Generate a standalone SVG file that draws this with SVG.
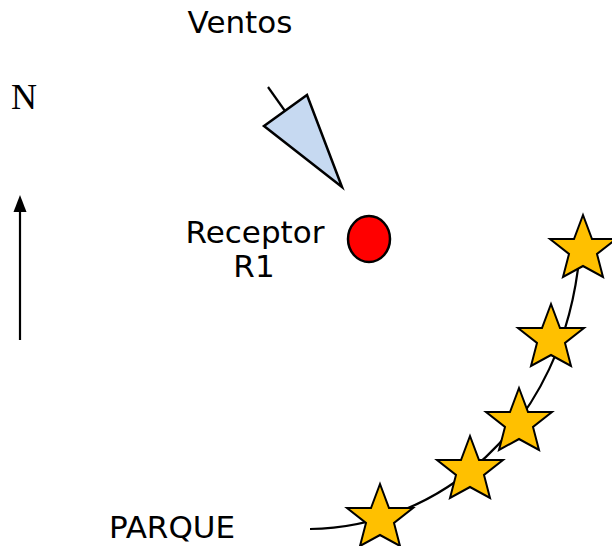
<svg xmlns="http://www.w3.org/2000/svg" width="612" height="546" viewBox="0 0 612 546">
  <defs>
    <style>
      .lbl { font-family: "DejaVu Sans", Verdana, sans-serif; font-size: 31px; fill: #000; text-anchor: middle; }
      .north { font-family: "Liberation Serif", "Times New Roman", serif; font-size: 36px; fill: #000; }
      .ln { fill: none; stroke: #000; stroke-width: 2.2; }
      .star { fill: #FFC000; stroke: #000; stroke-width: 2; stroke-linejoin: miter; }
    </style>
    <!-- five-point star, origin at its top tip -->
    <path id="star" d="M0,0 L9,24 L33,24 L14,39 L20,62 L0,51 L-20,62 L-14,39 L-33,24 L-9,24 Z"/>
  </defs>

  <rect width="612" height="546" fill="#fff"/>

  <!-- wind label and vane -->
  <g id="wind">
    <text class="lbl" x="240" y="33">Ventos</text>
    <line class="ln" x1="268" y1="87" x2="285" y2="111"/>
    <polygon points="264,126 307,95 342,187" fill="#C6D9F1" stroke="#000" stroke-width="2.5" stroke-linejoin="miter"/>
  </g>

  <!-- north indicator -->
  <g id="north">
    <text class="north" x="11" y="109">N</text>
    <line class="ln" x1="20" y1="340" x2="20" y2="208"/>
    <polygon points="13.5,212 26.5,212 20,195" fill="#000"/>
  </g>

  <!-- receptor -->
  <g id="receptor">
    <text class="lbl" x="255" y="243">Receptor</text>
    <text class="lbl" x="254" y="277">R1</text>
    <ellipse cx="369" cy="239" rx="21" ry="23" fill="#FF0000" stroke="#000" stroke-width="2.5"/>
  </g>

  <!-- park alignment curve -->
  <g id="connectors">
    <path class="ln" d="M310,529 C435,528 565,430 580,250"/>
  </g>

  <!-- wind park turbines -->
  <g id="park">
    <text class="lbl" x="172" y="538">PARQUE</text>
    <use href="#star" class="star" x="583" y="215"/>
    <use href="#star" class="star" x="551" y="304"/>
    <use href="#star" class="star" x="519" y="388"/>
    <use href="#star" class="star" x="470" y="436"/>
    <use href="#star" class="star" x="380" y="484"/>
  </g>
</svg>
